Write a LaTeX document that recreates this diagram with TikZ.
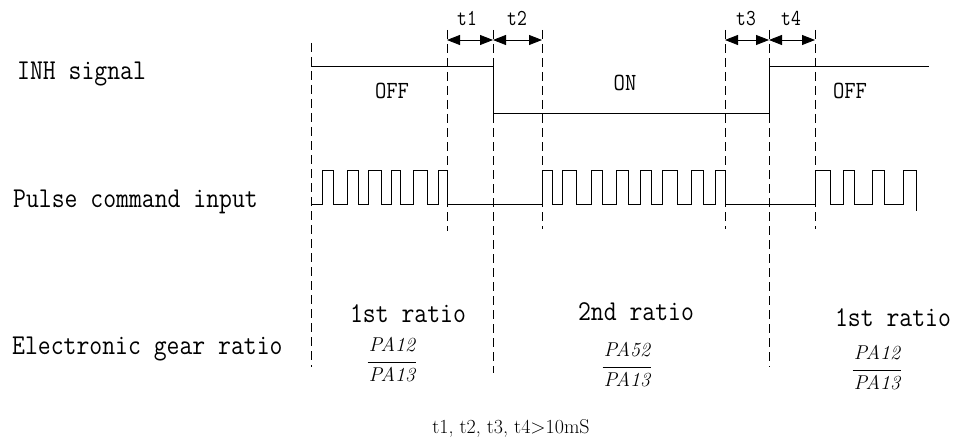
\documentclass[tikz,border=0pt]{standalone}
\usetikzlibrary{arrows.meta}
\newcommand\vstretch[2]{\scalebox{1}[#1]{#2}}
\tikzset{
  sig/.style={line width=0.9pt, black},
  guide/.style={line width=0.8pt, dash pattern=on 9pt off 5pt},
  dimarrow/.style={line width=0.8pt, {Triangle[length=13pt,width=10pt]}-{Triangle[length=13pt,width=10pt]}},
  rowlbl/.style={font=\fontsize{25}{30}\selectfont\ttfamily, anchor=base west, inner sep=0pt},
  ratiolbl/.style={font=\fontsize{25}{30}\selectfont\ttfamily, anchor=base, inner sep=0pt},
  statelbl/.style={font=\fontsize{22}{26}\selectfont\ttfamily, anchor=base, inner sep=0pt},
  tlbl/.style={font=\fontsize{19}{23}\selectfont\ttfamily, anchor=base, inner sep=0pt},
  notelbl/.style={font=\fontsize{20}{24}\selectfont\rmfamily, anchor=base, inner sep=0pt},
  fracpart/.style={font=\fontsize{20}{24}\selectfont\itshape, anchor=base, inner sep=0pt},
  fracbar/.style={line width=0.8pt},
}
\begin{document}
\begin{tikzpicture}[x=1pt,y=-1pt]
\useasboundingbox (0,0) rectangle (955,441);

% row labels
\node[rowlbl] (inh) at (17,80) {\vstretch{1.15}{INH signal}};
\node[rowlbl] (pulse) at (13,207) {\vstretch{1.15}{Pulse command input}};
\node[rowlbl] (gear) at (12,354) {\vstretch{1.15}{Electronic gear ratio}};

% dashed guide lines
\coordinate (d0t) at (311,43);  \coordinate (d0b) at (311,367);
\coordinate (d1t) at (447,30);  \coordinate (d1b) at (447,231);
\coordinate (d2t) at (493,30);  \coordinate (d2b) at (493,373);
\coordinate (d3t) at (542,30);  \coordinate (d3b) at (542,229);
\coordinate (d4t) at (725,30);  \coordinate (d4b) at (725,229);
\coordinate (d5t) at (769,30);  \coordinate (d5b) at (769,367);
\coordinate (d6t) at (815,30);  \coordinate (d6b) at (815,229);
\foreach \i in {0,...,6} {\draw[guide] (d\i t) -- (d\i b);}

% dimension arrows
\coordinate (a1) at (447,40);
\coordinate (a2) at (493,40);
\coordinate (a3) at (542,40);
\coordinate (a4) at (725,40);
\coordinate (a5) at (769,40);
\coordinate (a6) at (815,40);
\draw[dimarrow] (a1) -- (a2);
\draw[dimarrow] (a2) -- (a3);
\draw[dimarrow] (a4) -- (a5);
\draw[dimarrow] (a5) -- (a6);
\node[tlbl] (t1) at (467,26) {\vstretch{1.2}{t1}};
\node[tlbl] (t2) at (517,26) {\vstretch{1.2}{t2}};
\node[tlbl] (t3) at (746,26) {\vstretch{1.2}{t3}};
\node[tlbl] (t4) at (791,26) {\vstretch{1.2}{t4}};

% INH signal
\draw[sig] (311,66) -- (493,66) -- (493,113) -- (769,113) -- (769,66) -- (929,66);
\node[statelbl] (off1) at (392,99) {\vstretch{1.12}{OFF}};
\node[statelbl] (on) at (625,91) {\vstretch{1.12}{ON}};
\node[statelbl] (off2) at (850,99) {\vstretch{1.12}{OFF}};

% pulse command input
\draw[sig] (311,204) -| (322,170) -| (333,204) -| (347,170) -| (358,204)
  -| (368,170) -| (381,204) -| (391,170) -| (400,204) -| (413,170) -| (427,204)
  -| (438,170) -| (447,204) -- (542,204) -- (542,170)
  -| (552,204) -| (562,170) -| (576,204) -| (591,170) -| (602,204)
  -| (616,170) -| (628,204) -| (640,170) -| (651,204) -| (662,170)
  -| (677,204) -| (691,170) -| (703,204) -| (715,170) -| (725,204)
  -- (815,204) -- (815,170)
  -| (830,204) -| (843,170) -| (854,204) -| (872,170) -| (884,204)
  -| (903,170) -| (916,211);

% gear ratios
\node[ratiolbl] (r1) at (408,322) {\vstretch{1.15}{1st ratio}};
\node[fracpart] (r1n) at (392,351) {PA12};
\node[fracpart] (r1d) at (392,381) {PA13};
\draw[fracbar] ([xshift=-1pt]r1d.west |- 0,362) -- ([xshift=1pt]r1d.east |- 0,362);

\node[ratiolbl] (r2) at (636,320) {\vstretch{1.15}{2nd ratio}};
\node[fracpart] (r2n) at (627,356) {PA52};
\node[fracpart] (r2d) at (627,386) {PA13};
\draw[fracbar] ([xshift=-1pt]r2d.west |- 0,367) -- ([xshift=1pt]r2d.east |- 0,367);

\node[ratiolbl] (r3) at (893,326) {\vstretch{1.15}{1st ratio}};
\node[fracpart] (r3n) at (877,359) {PA12};
\node[fracpart] (r3d) at (877,389) {PA13};
\draw[fracbar] ([xshift=-1pt]r3d.west |- 0,370) -- ([xshift=1pt]r3d.east |- 0,370);

% note
\node[notelbl] (note) at (511,433) {t1, t2, t3, t4>10mS};
\end{tikzpicture}
\end{document}
